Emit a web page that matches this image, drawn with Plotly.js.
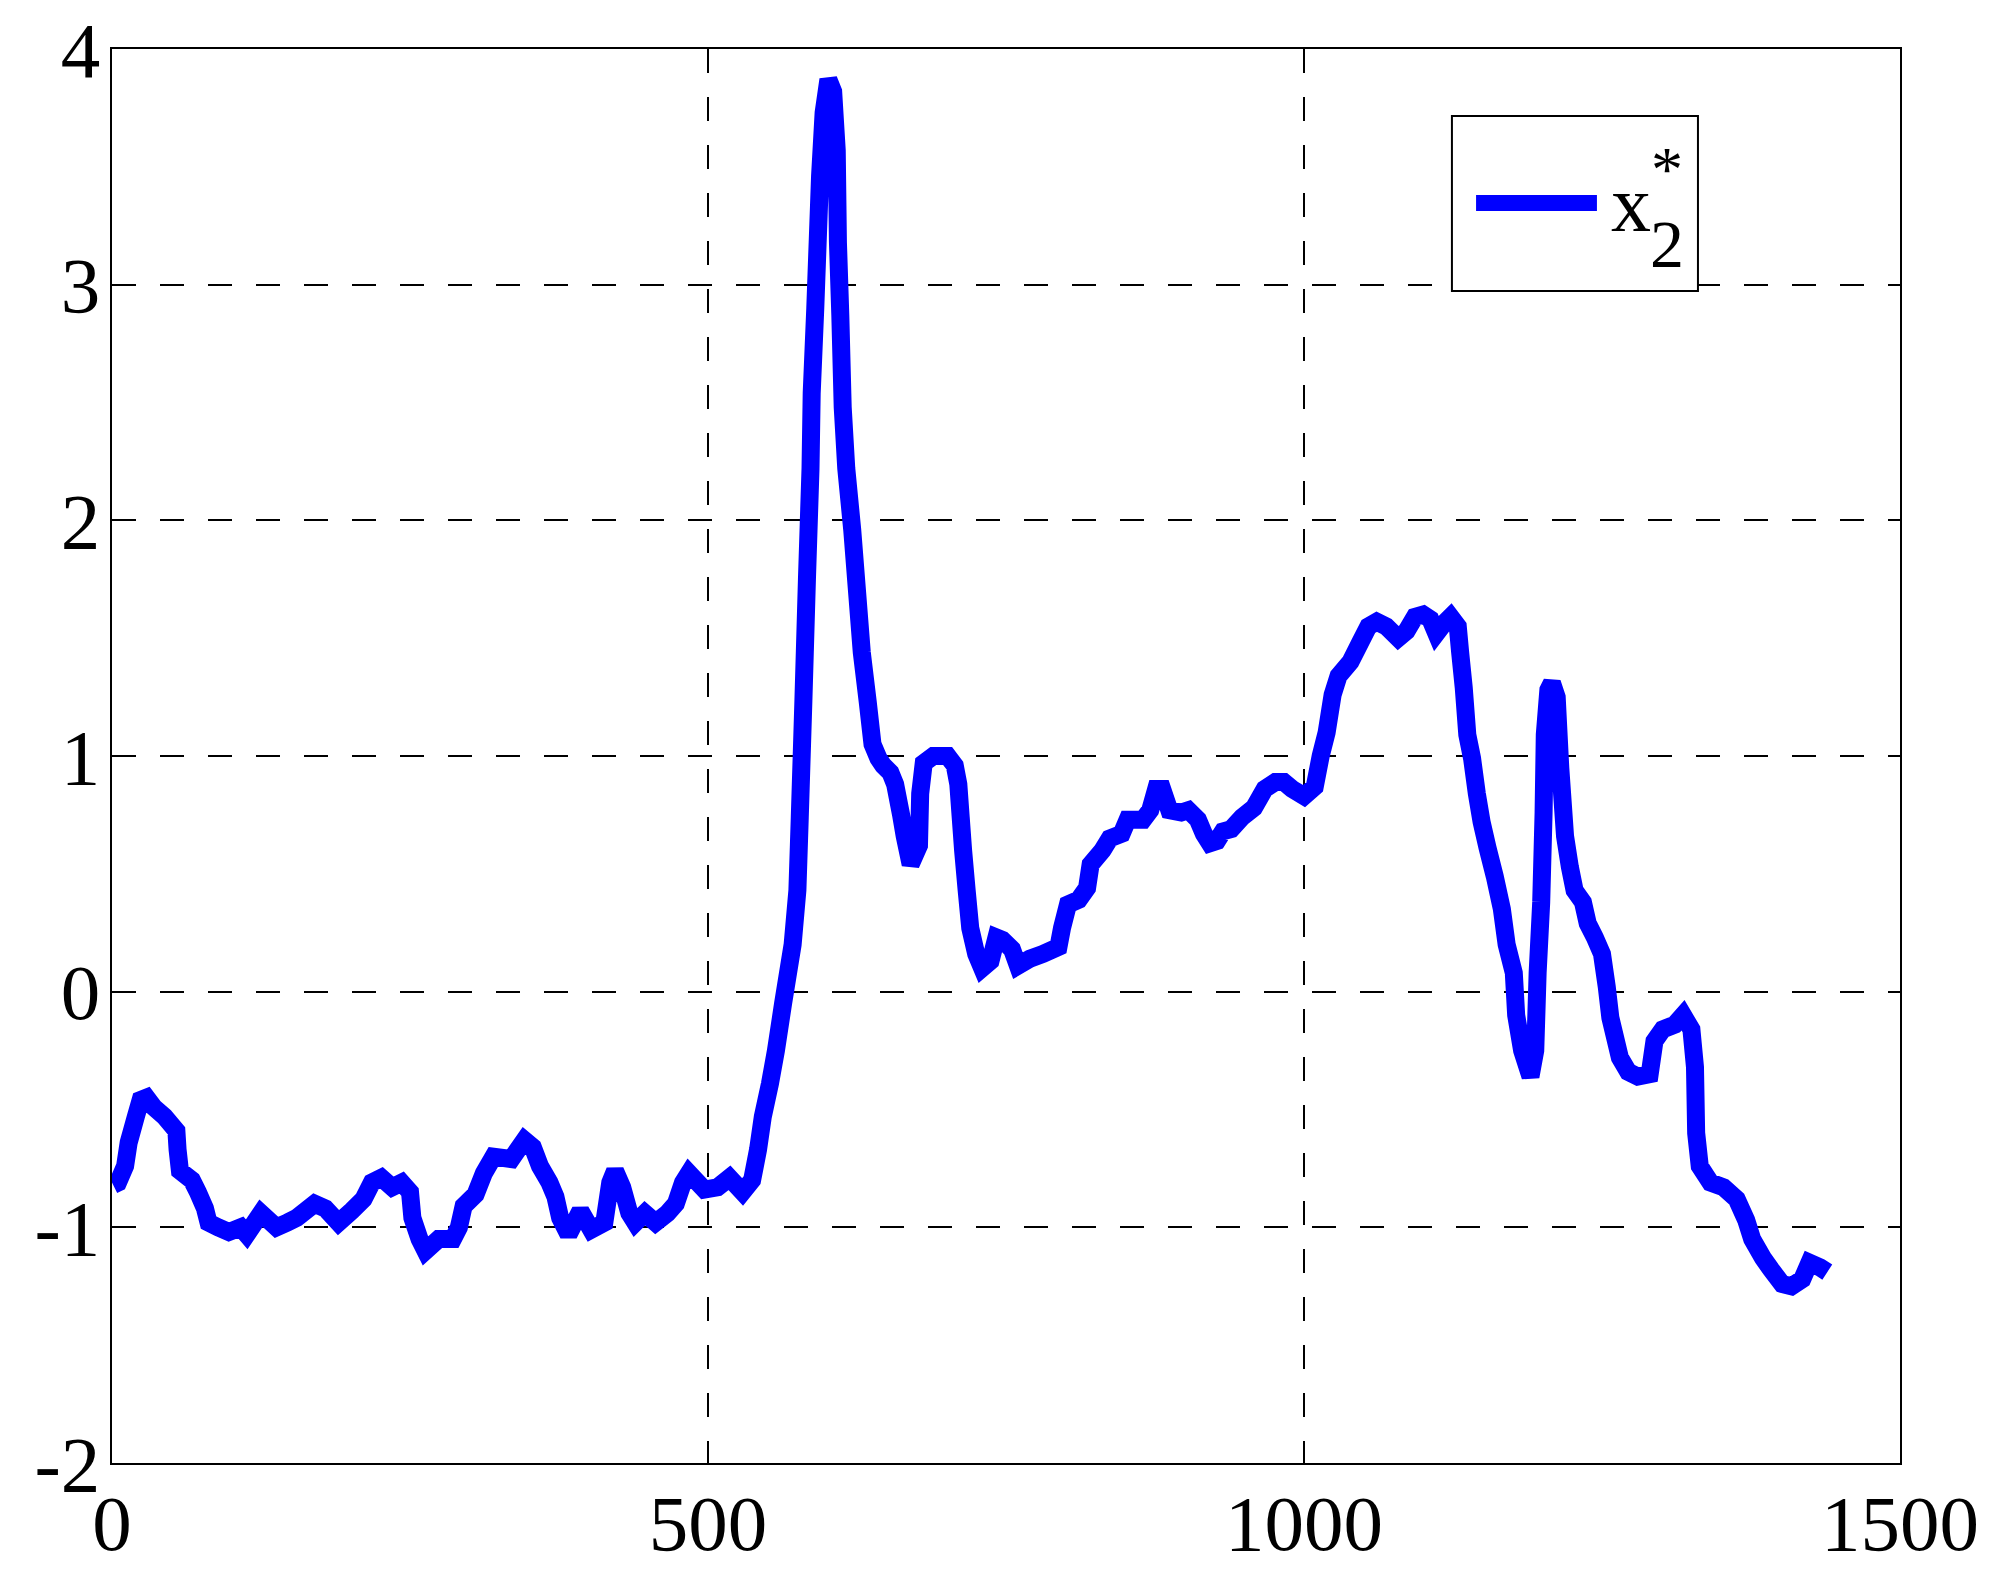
<!DOCTYPE html>
<html>
<head>
<meta charset="utf-8">
<script src="https://cdn.plot.ly/plotly-3.0.1.min.js"></script>
<style>
  body { margin: 0; background: #fff; }
  #chart { width: 2008px; height: 1576px; }
</style>
</head>
<body>
<div id="chart"></div>
<script>
// sample index (x) and x2* values
var sampleX = [1, 5, 11, 14, 20, 24, 29, 35, 44, 54, 55, 57, 67, 72, 78, 81, 89, 98, 108, 113,
  125, 138, 147, 155, 170, 179, 190, 201, 211, 218, 226, 235, 243, 250, 252, 258, 263, 274, 286, 291,
  295, 305, 312, 320, 335, 346, 353, 359, 367, 372, 376, 383, 393, 402, 413, 418, 422, 428, 434, 439,
  447, 456, 466, 473, 479, 484, 497, 508, 518, 529, 537, 542, 546, 552, 557, 563, 571, 575, 577, 580,
  583, 586, 587, 590, 592, 594, 597, 601, 605, 608, 609, 611, 613, 616, 621, 625, 629, 634, 638, 643,
  647, 653, 657, 662, 665, 670, 677, 678, 681, 689, 701, 707, 710, 712, 714, 717, 720, 725, 730, 737,
  742, 747, 755, 760, 770, 781, 794, 797, 802, 811, 818, 821, 831, 837, 847, 852, 865, 871, 876, 881,
  887, 897, 903, 911, 916, 921, 927, 932, 939, 948, 958, 967, 976, 983, 990, 1000, 1009, 1014, 1019, 1024,
  1029, 1039, 1047, 1054, 1061, 1069, 1079, 1086, 1093, 1100, 1106, 1111, 1117, 1123, 1129, 1131, 1134, 1137, 1141, 1145,
  1149, 1154, 1160, 1166, 1170, 1176, 1178, 1183, 1190, 1194, 1196, 1199, 1201, 1202, 1205, 1208, 1212, 1215, 1219, 1223,
  1227, 1234, 1238, 1244, 1250, 1254, 1257, 1265, 1272, 1280, 1290, 1294, 1301, 1311, 1318, 1325, 1328, 1329, 1332, 1341,
  1352, 1363, 1371, 1376, 1385, 1392, 1401, 1409, 1418, 1424, 1433, 1439];

var x2star = [-0.82, -0.81, -0.74, -0.64, -0.53, -0.46, -0.45, -0.49, -0.53, -0.59, -0.67, -0.76, -0.80, -0.85, -0.92, -0.98, -1.00, -1.02, -1.00, -1.03,
  -0.94, -1.00, -0.98, -0.96, -0.90, -0.92, -0.98, -0.93, -0.88, -0.81, -0.79, -0.83, -0.81, -0.85, -0.96, -1.05, -1.10, -1.05, -1.05, -1.00,
  -0.91, -0.86, -0.77, -0.70, -0.71, -0.63, -0.66, -0.74, -0.81, -0.87, -0.96, -1.03, -0.93, -1.01, -0.98, -0.81, -0.76, -0.83, -0.94, -0.98,
  -0.94, -0.98, -0.94, -0.90, -0.81, -0.77, -0.84, -0.83, -0.79, -0.85, -0.80, -0.67, -0.53, -0.39, -0.25, -0.05, 0.20, 0.43, 0.74, 1.23,
  1.75, 2.22, 2.54, 2.90, 3.18, 3.46, 3.73, 3.87, 3.82, 3.57, 3.18, 2.87, 2.48, 2.22, 1.96, 1.70, 1.44, 1.23, 1.05, 0.99,
  0.96, 0.93, 0.88, 0.75, 0.66, 0.54, 0.62, 0.84, 0.97, 1.00, 1.00, 0.96, 0.88, 0.74, 0.60, 0.43, 0.27, 0.16, 0.10, 0.13,
  0.23, 0.22, 0.18, 0.11, 0.14, 0.16, 0.19, 0.27, 0.37, 0.39, 0.44, 0.54, 0.60, 0.65, 0.67, 0.73, 0.73, 0.77, 0.86, 0.86,
  0.77, 0.76, 0.77, 0.73, 0.67, 0.63, 0.64, 0.68, 0.69, 0.74, 0.78, 0.86, 0.89, 0.89, 0.86, 0.83, 0.87, 1.00, 1.10, 1.26,
  1.34, 1.40, 1.48, 1.55, 1.57, 1.55, 1.50, 1.53, 1.59, 1.60, 1.58, 1.52, 1.56, 1.59, 1.55, 1.44, 1.29, 1.09, 0.99, 0.84,
  0.72, 0.61, 0.49, 0.35, 0.20, 0.08, -0.10, -0.25, -0.36, -0.25, 0.08, 0.38, 0.76, 1.09, 1.28, 1.31, 1.25, 0.95, 0.66, 0.53,
  0.43, 0.38, 0.29, 0.23, 0.16, 0.02, -0.11, -0.28, -0.34, -0.36, -0.35, -0.21, -0.16, -0.14, -0.10, -0.16, -0.32, -0.60, -0.74, -0.81,
  -0.83, -0.88, -0.97, -1.05, -1.13, -1.18, -1.24, -1.25, -1.22, -1.15, -1.17, -1.19];

var xTicks = [0, 500, 1000, 1500];
var xTickText = ["0", "500", "1000", "1500"];
var yTicks = [-2, -1, 0, 1, 2, 3, 4];
var yTickText = ["-2", "-1", "0", "1", "2", "3", "4"];

var blue = "#0000ff";
var serif = "Liberation Serif, Times New Roman, serif";

var trace = {
  x: sampleX,
  y: x2star,
  type: "scatter",
  mode: "lines",
  line: { color: blue, width: 18, simplify: false },
  showlegend: false,
};

var axisCommon = {
  showline: true,
  linecolor: "#000",
  linewidth: 2,
  mirror: true,
  showgrid: true,
  gridcolor: "#000",
  gridwidth: 2,
  griddash: "24px,24px",
  zeroline: false,
  ticks: "",
  tickmode: "array",
  tickfont: { family: serif, size: 79, color: "#000" },
};

var layout = {
  width: 2008,
  height: 1576,
  margin: { l: 112, r: 108, t: 49, b: 113 },
  paper_bgcolor: "#fff",
  plot_bgcolor: "#fff",
  font: { family: serif, color: "#000" },
  xaxis: Object.assign({}, axisCommon, {
    range: [0, 1500],
    tickvals: xTicks,
    ticktext: xTickText,
    ticklabelstandoff: -10,
  }),
  yaxis: Object.assign({}, axisCommon, {
    range: [-2, 4],
    tickvals: yTicks,
    ticktext: yTickText,
    ticklabelstandoff: -6,
  }),
  // hand-made legend box, so the sample line can be as long as in the original
  shapes: [
    {
      type: "rect", xref: "paper", yref: "paper", layer: "above",
      x0: 0.7494, x1: 0.8870, y0: 0.8289, y1: 0.9526,
      line: { color: "#000", width: 2 }, fillcolor: "#fff",
    },
    {
      type: "line", xref: "paper", yref: "paper", layer: "above",
      x0: 0.7629, x1: 0.8305, y0: 0.8911, y1: 0.8911,
      line: { color: blue, width: 16 },
    },
  ],
  annotations: [
    { xref: "paper", yref: "paper", x: 0.8498, y: 0.8906, xanchor: "center", yanchor: "middle",
      text: "x", showarrow: false, font: { family: serif, size: 80, color: "#000" } },
    { xref: "paper", yref: "paper", x: 0.8697, y: 0.862, xanchor: "center", yanchor: "middle",
      text: "2", showarrow: false, font: { family: serif, size: 68, color: "#000" } },
    { xref: "paper", yref: "paper", x: 0.8697, y: 0.9145, xanchor: "center", yanchor: "middle",
      text: "*", showarrow: false, font: { family: serif, size: 64, color: "#000" } },
  ],
};

Plotly.newPlot("chart", [trace], layout, { staticPlot: true });
</script>
</body>
</html>
